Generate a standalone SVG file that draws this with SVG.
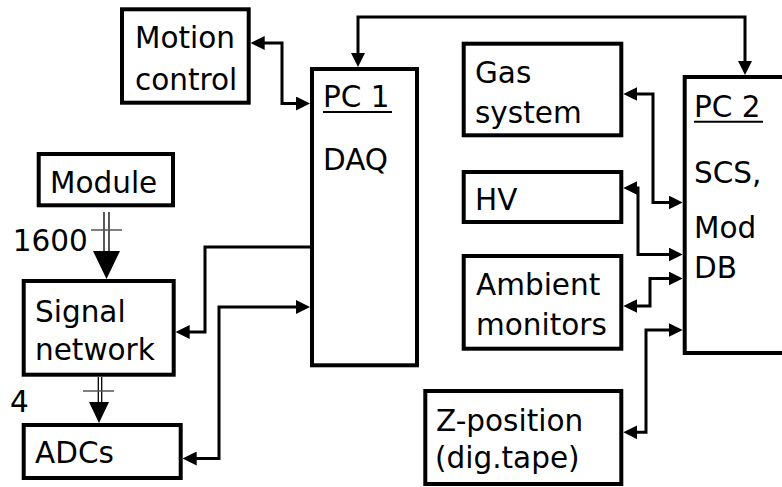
<svg xmlns="http://www.w3.org/2000/svg" width="782" height="487" viewBox="0 0 782 487">
<style>
.box{fill:#fff;stroke:#000;stroke-width:4}
.t{font-family:"DejaVu Sans","Verdana",sans-serif;font-size:29.5px;fill:#000}
.c{fill:none;stroke:#000;stroke-width:3;stroke-linejoin:miter}
.bi{marker-start:url(#ah);marker-end:url(#ah)}
.one{marker-end:url(#ah)}
.dbl{stroke:#000;stroke-width:1.3}
.tick{stroke:#555;stroke-width:1.5}
.ul{stroke:#000;stroke-width:2}
</style>
<defs>
<marker id="ah" viewBox="0 0 14 14" markerWidth="14" markerHeight="14" markerUnits="userSpaceOnUse" refX="10" refY="7" orient="auto-start-reverse">
<path d="M0,0 L14,7 L0,14 z" fill="#000"/>
</marker>
</defs>
<rect width="782" height="487" fill="#fff"/>

<g id="connectors">
<path class="c bi" d="M358,63 V17 H745 V71"/>
<path class="c bi" d="M254.7,43 H282 V103.5 H306"/>
<path class="c one" d="M311,247 H205 V332 H179.7"/>
<path class="c bi" d="M186.7,458.5 H219 V307 H306"/>
<path class="c bi" d="M627.3,94 H653 V202.5 H678.7"/>
<path class="c bi" d="M627.3,188 H638 V254.5 H678.7"/>
<path class="c bi" d="M627.3,306 H650 V278.5 H678.7"/>
<path class="c bi" d="M627.3,432.3 H646 V330 H678.7"/>
<g id="bus1">
<line class="dbl" x1="104" y1="212" x2="104" y2="252"/>
<line class="dbl" x1="109" y1="212" x2="109" y2="252"/>
<line class="tick" x1="91" y1="230" x2="122" y2="230"/>
<polygon points="93,251 120,251 106.5,279" fill="#000"/>
</g>
<g id="bus2">
<line class="dbl" x1="98.3" y1="377" x2="98.3" y2="403"/>
<line class="dbl" x1="101.7" y1="377" x2="101.7" y2="403"/>
<line class="tick" x1="83" y1="391" x2="114" y2="391"/>
<polygon points="89,402 109,402 99,423" fill="#000"/>
</g>
<text class="t" x="12.7" y="251">1600</text>
<text class="t" x="10" y="412">4</text>
</g>

<g id="motion">
<rect class="box" x="122" y="9.3" width="126.7" height="93.4"/>
<text class="t" x="135" y="48">Motion</text>
<text class="t" x="135" y="90">control</text>
</g>
<g id="pc1">
<rect class="box" x="312" y="69" width="105" height="296.3"/>
<text class="t" x="323" y="107">PC 1</text>
<line class="ul" x1="323" y1="112" x2="392" y2="112"/>
<text class="t" x="323" y="170">DAQ</text>
</g>
<g id="module">
<rect class="box" x="38.7" y="154" width="134.3" height="51.3"/>
<text class="t" x="50" y="193">Module</text>
</g>
<g id="signal">
<rect class="box" x="23.7" y="281" width="150" height="93.7"/>
<text class="t" x="35" y="321.7">Signal</text>
<text class="t" x="35" y="360">network</text>
</g>
<g id="adcs">
<rect class="box" x="23.7" y="425" width="157" height="53"/>
<text class="t" x="35" y="463">ADCs</text>
</g>
<g id="gas">
<rect class="box" x="463.7" y="43.7" width="157.6" height="91.6"/>
<text class="t" x="475" y="82.7">Gas</text>
<text class="t" x="475" y="123">system</text>
</g>
<g id="hv">
<rect class="box" x="463.7" y="172" width="157.6" height="50"/>
<text class="t" x="475" y="210">HV</text>
</g>
<g id="ambient">
<rect class="box" x="463.7" y="256" width="157.6" height="92.7"/>
<text class="t" x="476" y="295">Ambient</text>
<text class="t" x="476" y="335">monitors</text>
</g>
<g id="zpos">
<rect class="box" x="425.3" y="391" width="196" height="93"/>
<text class="t" x="436" y="431">Z-position</text>
<text class="t" x="435" y="468">(dig.tape)</text>
</g>
<g id="pc2">
<rect class="box" x="684.7" y="77" width="120" height="276"/>
<text class="t" x="694" y="116.7">PC 2</text>
<line class="ul" x1="694" y1="121.7" x2="763" y2="121.7"/>
<text class="t" x="694" y="183">SCS,</text>
<text class="t" x="694" y="238">Mod</text>
<text class="t" x="694" y="278">DB</text>
</g>
</svg>
